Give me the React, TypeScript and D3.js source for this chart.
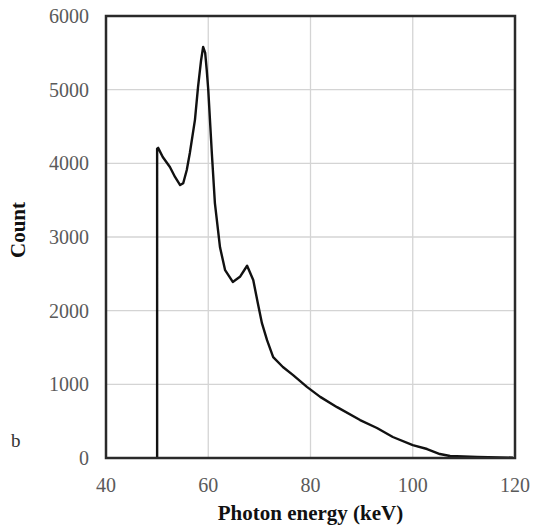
import React from 'react';
import * as d3 from 'd3';

// photon energy (keV) and counts
const energy = [50, 50, 50.2, 51.1, 52.5, 53.5, 54.5, 55.1, 55.8, 56.4, 57.4, 58, 58.6, 59, 59.4, 59.7, 60, 60.7, 61.3, 62.3, 63.3, 64.8, 66.2, 67.6, 68.8, 69.7, 70.5, 71.5, 72.7, 74.6, 76.6, 79.3, 81.9, 85.2, 89.7, 93, 96.1, 100, 102.8, 105.3, 107.3, 112.6, 119.6];
const counts = [0, 4200, 4210, 4085, 3950, 3815, 3705, 3730, 3910, 4140, 4590, 5035, 5400, 5580, 5500, 5270, 5000, 4140, 3460, 2860, 2550, 2390, 2460, 2610, 2415, 2100, 1830, 1600, 1370, 1235, 1125, 965, 830, 690, 515, 407, 285, 176, 122, 54, 27, 14, 5];

const xTicks = [40, 60, 80, 100, 120];
const yTicks = [0, 1000, 2000, 3000, 4000, 5000, 6000];

const W = 533, H = 528;
const left = 106, right = 515, top = 16, bottom = 458;

export default function App() {
  const x = d3.scaleLinear().domain([40, 120]).range([left, right]);
  const y = d3.scaleLinear().domain([0, 6000]).range([bottom, top]);

  const pts = energy.map((e, i) => [e, counts[i]] as [number, number]);
  const line = d3.line<[number, number]>()
    .x(d => x(d[0]))
    .y(d => y(d[1]));

  return (
    <svg width={W} height={H} style={{ position: 'absolute', left: 0, top: 0, background: '#fff' }}>
      {/* grid */}
      {xTicks.map(t => (
        <line key={'gx' + t} x1={x(t)} x2={x(t)} y1={top} y2={bottom} stroke="#d4d4d4" strokeWidth={1.3} />
      ))}
      {yTicks.map(t => (
        <line key={'gy' + t} x1={left} x2={right} y1={y(t)} y2={y(t)} stroke="#d4d4d4" strokeWidth={1.3} />
      ))}

      <path d={line(pts) || ''} fill="none" stroke="#111" strokeWidth={2.4} strokeLinejoin="round" />

      {/* frame */}
      <rect x={left} y={top} width={right - left} height={bottom - top} fill="none" stroke="#2a2a2a" strokeWidth={2.5} />

      {/* tick labels */}
      {yTicks.map(t => (
        <text key={'ly' + t} x={89} y={y(t)} dy="0.35em" textAnchor="end"
          fontFamily="Liberation Serif" fontSize={20} fill="#5a5a5a">{t}</text>
      ))}
      {xTicks.map(t => (
        <text key={'lx' + t} x={x(t)} y={492} textAnchor="middle"
          fontFamily="Liberation Serif" fontSize={20} fill="#5a5a5a">{t}</text>
      ))}

      {/* axis titles */}
      <text x={(left + right) / 2} y={520} textAnchor="middle" fontFamily="Liberation Serif"
        fontWeight="bold" fontSize={21} fill="#111">Photon energy (keV)</text>
      <text transform="translate(25,230) rotate(-90)" textAnchor="middle" fontFamily="Liberation Serif"
        fontWeight="bold" fontSize={21} fill="#111">Count</text>

      <text x={11} y={447} fontFamily="Liberation Serif" fontSize={19} fill="#333">b</text>
    </svg>
  );
}
